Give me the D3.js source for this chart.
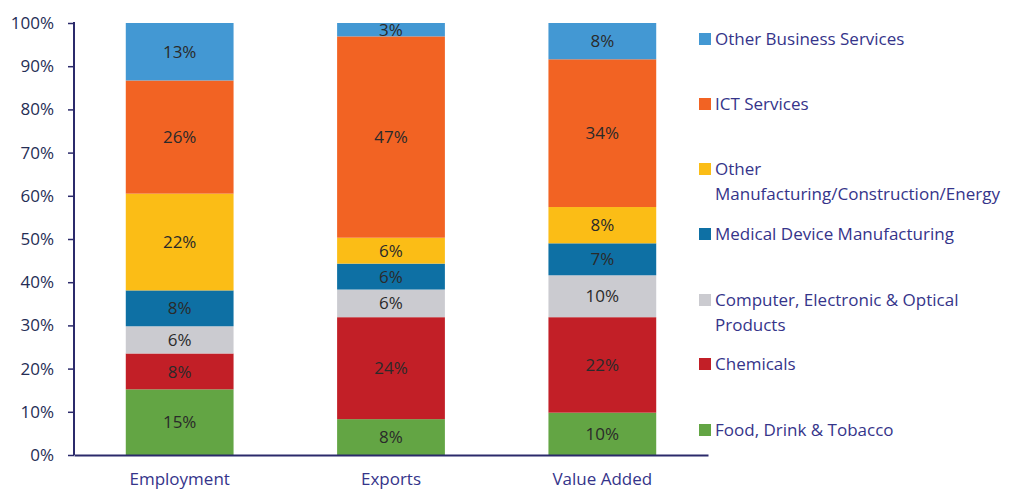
<!DOCTYPE html>
<html><head><meta charset="utf-8">
<script src="https://cdn.jsdelivr.net/npm/d3@7"></script>
<style>body{margin:0;background:#fff}svg{display:block;font-family:"Open Sans",sans-serif}</style>
</head><body><svg id="c" width="1013" height="491"></svg>
<script>
const categories = ["Employment", "Exports", "Value Added"];
const seriesNames = ["Food, Drink & Tobacco", "Chemicals", "Computer, Electronic & Optical Products", "Medical Device Manufacturing", "Other Manufacturing/Construction/Energy", "ICT Services", "Other Business Services"];
const food      = [15.2, 8.3, 9.8];
const chemicals = [8.3, 23.6, 22.1];
const computer  = [6.3, 6.4, 9.7];
const medical   = [8.3, 6.0, 7.4];
const otherMan  = [22.4, 6.0, 8.4];
const ict       = [26.2, 46.6, 34.2];
const otherBus  = [13.3, 3.1, 8.4];
const colors = ["#63A544", "#C21F27", "#CBCBD0", "#0E70A4", "#FBBD16", "#F26323", "#4398D3"];
const legendLines = [["Food, Drink & Tobacco"], ["Chemicals"], ["Computer, Electronic & Optical", "Products"], ["Medical Device Manufacturing"], ["Other", "Manufacturing/Construction/Energy"], ["ICT Services"], ["Other Business Services"]];
const yTicks = [0, 10, 20, 30, 40, 50, 60, 70, 80, 90, 100];

const seriesValues = [food, chemicals, computer, medical, otherMan, ict, otherBus];
const rows = categories.map((c, i) => { const r = {cat: c}; seriesNames.forEach((s, j) => r[s] = seriesValues[j][i]); return r; });
const stack = d3.stack().keys(seriesNames)(rows);

const svg = d3.select("#c");
const axisCol = "#2B2A6B", tickCol = "#252D55", textCol = "#35348A";
const FS = 17;
const x = d3.scaleBand().domain(categories).range([74, 708]).paddingInner(0.49).paddingOuter(0.245);
const y = d3.scaleLinear().domain([0, 100]).range([455, 23]);

const g = svg.append("g");
stack.forEach((layer, j) => {
  g.selectAll(null).data(layer).enter().append("rect")
    .attr("x", d => x(d.data.cat)).attr("width", x.bandwidth())
    .attr("y", d => y(d[1])).attr("height", d => y(d[0]) - y(d[1]))
    .attr("fill", colors[j]);
  g.selectAll(null).data(layer).enter().append("text")
    .attr("x", d => x(d.data.cat) + x.bandwidth() / 2)
    .attr("y", d => (y(d[0]) + y(d[1])) / 2)
    .attr("dy", "0.36em").attr("text-anchor", "middle")
    .attr("font-size", FS).attr("fill", "#2A2A2A")
    .text(d => Math.round(d[1] - d[0]) + "%");
});

// y axis
const ya = svg.append("g").attr("transform", "translate(74,0)")
  .call(d3.axisLeft(y).tickValues(yTicks).tickSize(6).tickPadding(14).tickFormat(d => d + "%"));
ya.select(".domain").attr("stroke", axisCol).attr("stroke-width", 2).attr("d", "M0,22V455");
ya.selectAll(".tick line").attr("stroke", axisCol).attr("stroke-width", 1.5);
ya.selectAll(".tick text").attr("font-size", FS).attr("fill", tickCol).attr("font-family", "Open Sans");

// x axis
const xa = svg.append("g").attr("transform", "translate(0,455)")
  .call(d3.axisBottom(x).tickSize(0).tickPadding(18));
xa.select(".domain").attr("stroke", axisCol).attr("stroke-width", 2);
xa.selectAll(".tick text").attr("font-size", FS).attr("fill", textCol).attr("font-family", "Open Sans");

// legend
const legY = [430, 364, 300, 234, 169, 104, 39];
const leg = svg.append("g");
seriesNames.forEach((s, j) => {
  leg.append("rect").attr("x", 699).attr("y", legY[j] - 6).attr("width", 12).attr("height", 12).attr("fill", colors[j]);
  const t = leg.append("text").attr("x", 715).attr("y", legY[j])
    .attr("font-size", FS).attr("fill", textCol);
  legendLines[j].forEach((ln, k) => t.append("tspan").attr("x", 715).attr("dy", k === 0 ? "0.36em" : 25).text(ln));
});
</script></body></html>
